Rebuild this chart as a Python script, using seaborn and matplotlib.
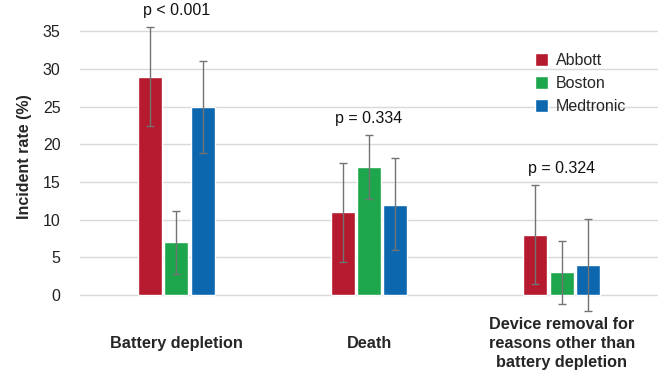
import numpy as np
import pandas as pd
import seaborn as sns
import matplotlib.pyplot as plt

categories = ["Battery depletion", "Death",
              "Device removal for\nreasons other than\nbattery depletion"]
makers = ["Abbott", "Boston", "Medtronic"]
abbott = [29, 11, 8]
boston = [7, 17, 3]
medtronic = [25, 12, 4]
abbott_lo = [22.4, 4.4, 1.4]
abbott_hi = [35.6, 17.5, 14.6]
boston_lo = [2.8, 12.7, -1.2]
boston_hi = [11.1, 21.2, 7.2]
medtronic_lo = [18.8, 6.0, -2.1]
medtronic_hi = [31.1, 18.2, 10.1]
p_labels = ["p < 0.001", "p = 0.334", "p = 0.324"]

colors = ["#B51A2E", "#1DA64B", "#0D67AE"]

df = pd.DataFrame({
    "category": categories * 3,
    "maker": [m for m in makers for _ in categories],
    "rate": abbott + boston + medtronic,
})
lows = [abbott_lo, boston_lo, medtronic_lo]
highs = [abbott_hi, boston_hi, medtronic_hi]

sns.set_style("white")
plt.rcParams["font.family"] = ["Liberation Sans", "DejaVu Sans"]

fig = plt.figure(figsize=(6.64, 3.75), dpi=100)
ax = fig.add_axes([80 / 664, (375 - 312.3) / 375, 578 / 664, 311 / 375])

sns.barplot(data=df, x="category", y="rate", hue="maker", palette=colors,
            width=0.41, gap=0.08, ax=ax, errorbar=None, saturation=1)

# error bars from the low/high bounds, placed on the bar centres
for cont, vals, lo, hi in zip(ax.containers, [abbott, boston, medtronic], lows, highs):
    xs = [b.get_x() + b.get_width() / 2 for b in cont]
    vals = np.array(vals)
    err = [vals - np.array(lo), np.array(hi) - vals]
    ax.errorbar(xs, vals, yerr=err, fmt="none", ecolor="#737373",
                elinewidth=1, capsize=3, capthick=1, zorder=5)

for i, lab in enumerate(p_labels):
    top = max(abbott_hi[i], boston_hi[i], medtronic_hi[i])
    ax.text(i, top + 1.2, lab, ha="center", va="bottom", fontsize=11.5, color="#111111")

ax.set_ylim(-2.3, 39)
ax.set_xlim(-0.5, 2.5)
ax.set_yticks(range(0, 36, 5))
ax.yaxis.grid(True, color="#D9D9D9", linewidth=1)
ax.set_axisbelow(True)
for s in ax.spines.values():
    s.set_visible(False)
ax.tick_params(axis="y", length=0, pad=14, labelsize=11.5, labelcolor="#222222")
ax.tick_params(axis="x", length=0, pad=22.5, labelsize=11.7)
for t in ax.get_xticklabels():
    t.set_fontweight("bold")
    t.set_verticalalignment("center")
    t.set_linespacing(1.3)
ax.set_xlabel("")
ax.set_ylabel("Incident rate (%)", fontsize=11.5, fontweight="bold", labelpad=8)

ax.legend(title=None, frameon=False, loc="upper right",
          bbox_to_anchor=(0.97, 0.88), fontsize=11.5, handlelength=0.8,
          handleheight=0.8, labelspacing=0.5, handletextpad=0.5)

fig.savefig("out.png", dpi=100)
